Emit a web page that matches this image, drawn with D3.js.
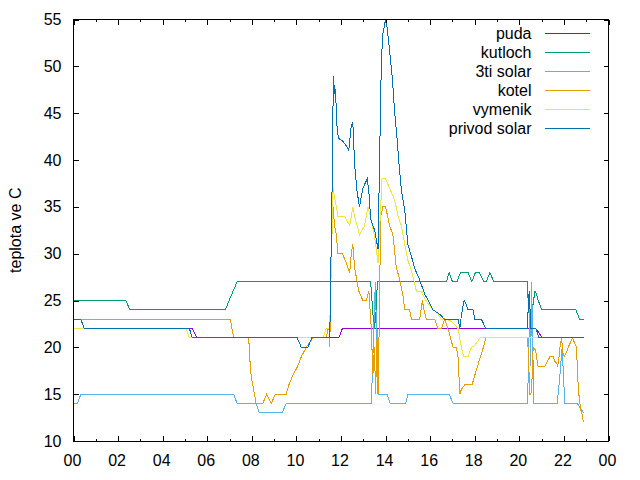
<!DOCTYPE html>
<html><head><meta charset="utf-8">
<script src="https://cdn.jsdelivr.net/npm/d3@7"></script>
<style>
body{margin:0;background:#fff}
svg{display:block}
text{font-family:"Liberation Sans",Arial,sans-serif;font-size:16px;fill:#000}
</style>
</head><body>
<svg id="chart" width="640" height="480"></svg>
<script>
// ---- data: [hour, temperature °C] ----
const seriesNames = ["puda","kutloch","3ti solar","kotel","vymenik","privod solar"];
const seriesColors = ["#9400d3","#009e73","#56b4e9","#e69f00","#f0e442","#0072b2"];

const puda = [[0,22],[5.33,22],[5.53,21],[11.9,21],[12.06,22],[20.74,22],[21.04,21],[22.88,21]];

const kutloch = [[0,25],[2.35,25],[2.53,24],[6.81,24],[6.98,25],[7.16,26],[7.34,27],[13.33,27],[13.39,25],[13.45,23],[13.5,22],[13.58,24],[13.63,27],
 [16.73,27],[16.85,28],[17.0,27],[17.2,27],[17.36,28],[17.7,28],[17.87,27],[18.03,28],[18.2,28],[18.4,27],[18.52,27],[18.68,28],[18.85,27],
 [20.35,27],[20.42,24],[20.5,22],[20.58,24],[20.7,26],[20.73,26],[20.85,25],[21.0,24],[22.54,24],[22.7,23],[22.88,23]];

const solar3 = [[0,14],[0.18,14],[0.33,15],[7.19,15],[7.34,14],[8.19,14],[8.34,13],[9.36,13],[9.54,14],[13.36,14],[13.43,19],[13.54,27],[13.66,15],
 [14.06,15],[14.21,14],[14.9,14],[15.0,15],[16.85,15],[17.03,14],[20.37,14],[20.47,25],[20.51,18],[20.55,27],[20.65,14],
 [21.7,14],[21.82,17],[21.92,20],[22.04,14],[22.6,14],[22.88,13]];

const kotel = [[0,23],[7.03,23],[7.11,22],[7.19,21],[7.86,21],[7.93,18],[7.97,17],[8.04,16],[8.12,15],[8.19,14],[8.49,14],[8.67,15],[8.87,14],[9.06,15],
 [9.54,15],[9.66,16],[9.84,17],[10.06,18],[10.22,19],[10.44,20],[10.74,21],[11.34,21],[11.41,22],[11.46,22],[11.49,20],[11.53,24],[11.56,31],[11.64,35],
 [11.71,33],[11.79,32],[11.86,30],[12.06,30],[12.24,29],[12.39,28],[12.46,30],[12.53,31],[12.61,28.5],[12.8,26],[12.98,25],[13.14,25],[13.25,26],
 [13.36,22],[13.43,17],[13.5,20],[13.55,15],[13.63,22],[13.67,15],[13.78,34],[13.88,35],[14.0,35],[14.18,33],[14.33,32],[14.48,28.5],[14.63,27.3],
 [14.78,25.5],[14.86,24],[15.08,24],[15.16,23],[15.53,23],[15.65,25],[15.72,24],[15.83,23],[16.2,23],[16.35,22],[16.5,22],[16.65,23],[16.8,22],
 [16.91,21],[17.03,20],[17.18,20],[17.25,19],[17.28,17.5],[17.33,15],[17.4,15.5],[17.55,16],[17.88,16],[18.0,17],[18.19,18.5],[18.35,19.7],[18.5,21],
 [20.35,21],[20.39,20],[20.44,17],[20.47,15],[20.52,15],[20.58,17],[20.62,20],[20.73,19.7],[20.77,19],[20.84,18],[21.15,18],[21.22,18.3],[21.37,19],
 [21.52,19],[21.6,18.5],[21.67,18.3],[21.72,18],[21.78,19],[21.82,20],[21.9,21],[21.94,19.5],[22.01,19],[22.12,19.5],[22.19,20],[22.27,20.4],
 [22.39,21],[22.49,20.4],[22.57,20],[22.61,17],[22.67,15],[22.72,14],[22.76,13.3],[22.84,12.6],[22.87,12]];

const vymenik = [[0,22],[5.05,22],[5.2,21],[11.19,21],[11.34,22],[11.49,22],[11.56,28],[11.64,37],[11.79,35],[11.86,34],[12.16,34],[12.39,33],
 [12.53,35],[12.61,34],[12.83,32],[13.06,33],[13.21,35],[13.36,33.6],[13.51,31.8],[13.66,29],[13.84,38],[14.0,38],[14.18,37],[14.41,35.7],
 [14.56,34],[14.71,33],[14.86,31],[15.0,29.3],[15.16,28.2],[15.31,26.8],[15.38,26],[15.61,26],[15.75,25.2],[15.9,24.7],[16.13,24],[16.28,23.8],
 [16.5,23],[16.88,22.9],[17.11,22.4],[17.25,22],[17.4,20],[17.51,19],[17.7,19],[17.85,20],[18.0,20.2],[18.23,21],[22.88,21]];

const privodSolar = [[0,23],[0.33,23],[0.48,22],[5.2,22],[5.33,21],[10.04,21],[10.22,20],[10.51,20],[10.69,21],[11.49,21],[11.52,24],[11.56,31],
 [11.61,38.5],[11.64,45.5],[11.67,49],[11.7,47],[11.72,48],[11.79,45.6],[11.83,43],[11.9,42.3],[12.08,42],[12.24,41.5],[12.35,41],[12.46,43.7],
 [12.53,44],[12.61,39.6],[12.71,36.8],[12.83,35],[12.98,37],[13.18,38],[13.25,36.6],[13.33,33.7],[13.51,32.5],[13.66,30.5],[13.81,50.6],
 [13.88,53.5],[13.99,54.9],[14.06,54.3],[14.18,51.7],[14.3,48.8],[14.41,45],[14.51,42.4],[14.6,39.6],[14.71,36.8],[14.86,34.6],[15.0,31],
 [15.16,29.7],[15.31,28.4],[15.53,27.2],[15.75,25.7],[15.98,24.7],[16.13,24],[16.5,23.4],[16.62,23],[17.25,23],[17.33,22],[17.4,23.4],[17.52,25],
 [17.63,24.5],[17.7,24],[17.92,24],[18.0,23],[18.3,23],[18.5,22],[20.35,22],[20.44,26],[20.52,22],[20.74,22],[20.89,21],[22.88,21]];

const seriesData = [puda, kutloch, solar3, kotel, vymenik, privodSolar];

const xMajorTicks = [0,2,4,6,8,10,12,14,16,18,20,22,24];
const xTickLabels = ["00","02","04","06","08","10","12","14","16","18","20","22","00"];
const xMinorTicks = [1,3,5,7,9,11,13,15,17,19,21,23];
const yTicks = [10,15,20,25,30,35,40,45,50,55];
const yTitle = "teplota ve C";

// ---- layout ----
const L = 73.5, R = 608.5, T = 19.5, B = 441;
const svg = d3.select("#chart");
svg.append("rect").attr("width",640).attr("height",480).attr("fill","#fff");

const x = d3.scaleLinear().domain([0,24]).range([L,R]);
const y = d3.scaleLinear().domain([10,55]).range([B,T]);

function styleAxis(g){
  g.select(".domain").remove();
  g.selectAll(".tick line").attr("stroke","#000").attr("shape-rendering","crispEdges");
  g.selectAll("text").attr("font-family",null).attr("font-size",null).attr("fill","#000");
}

// bottom major
svg.append("g").attr("transform",`translate(0,${B})`)
  .call(d3.axisBottom(x).tickValues(xMajorTicks).tickFormat((d,i)=>xTickLabels[i]).tickSizeInner(-5).tickSizeOuter(0).tickPadding(14))
  .call(styleAxis)
  .call(g=>g.selectAll("text").attr("dx",-1.5));
// bottom minor
svg.append("g").attr("transform",`translate(0,${B})`)
  .call(d3.axisBottom(x).tickValues(xMinorTicks).tickFormat("").tickSizeInner(-2.5).tickSizeOuter(0))
  .call(styleAxis);
// top mirror
svg.append("g").attr("transform",`translate(0,${T})`)
  .call(d3.axisTop(x).tickValues(xMajorTicks).tickFormat("").tickSizeInner(-5).tickSizeOuter(0))
  .call(styleAxis);
svg.append("g").attr("transform",`translate(0,${T})`)
  .call(d3.axisTop(x).tickValues(xMinorTicks).tickFormat("").tickSizeInner(-2.5).tickSizeOuter(0))
  .call(styleAxis);
// left
svg.append("g").attr("transform",`translate(${L},0)`)
  .call(d3.axisLeft(y).tickValues(yTicks).tickFormat(d3.format("d")).tickSizeInner(-5).tickSizeOuter(0).tickPadding(12))
  .call(styleAxis);
// right mirror
svg.append("g").attr("transform",`translate(${R},0)`)
  .call(d3.axisRight(y).tickValues(yTicks).tickFormat("").tickSizeInner(-5).tickSizeOuter(0))
  .call(styleAxis);

// border
svg.append("rect").attr("x",L).attr("y",T).attr("width",R-L).attr("height",B-T)
  .attr("fill","none").attr("stroke","#000").attr("shape-rendering","crispEdges");

// y title
svg.append("text").attr("transform",`translate(21,${(T+B)/2}) rotate(-90)`)
  .attr("text-anchor","middle").text(yTitle);

// clip
svg.append("clipPath").attr("id","clip").append("rect")
  .attr("x",L).attr("y",T).attr("width",R-L).attr("height",B-T);

const line = d3.line().x(d=>x(d[0])).y(d=>y(d[1]));
const plot = svg.append("g").attr("clip-path","url(#clip)");
seriesData.forEach((data,i)=>{
  plot.append("path").datum(data).attr("d",line)
    .attr("fill","none").attr("stroke",seriesColors[i]).attr("stroke-width",1)
    .attr("shape-rendering","crispEdges");
});

// legend
const leg = svg.append("g");
seriesNames.forEach((name,i)=>{
  const yy = 33.3 + 19*i;
  leg.append("text").attr("x",531.5).attr("y",yy).attr("dy","0.35em")
    .attr("text-anchor","end").text(name);
  leg.append("line").attr("x1",545).attr("x2",590).attr("y1",yy).attr("y2",yy)
    .attr("stroke",seriesColors[i]).attr("stroke-width",1).attr("shape-rendering","crispEdges");
});
</script>
</body></html>
